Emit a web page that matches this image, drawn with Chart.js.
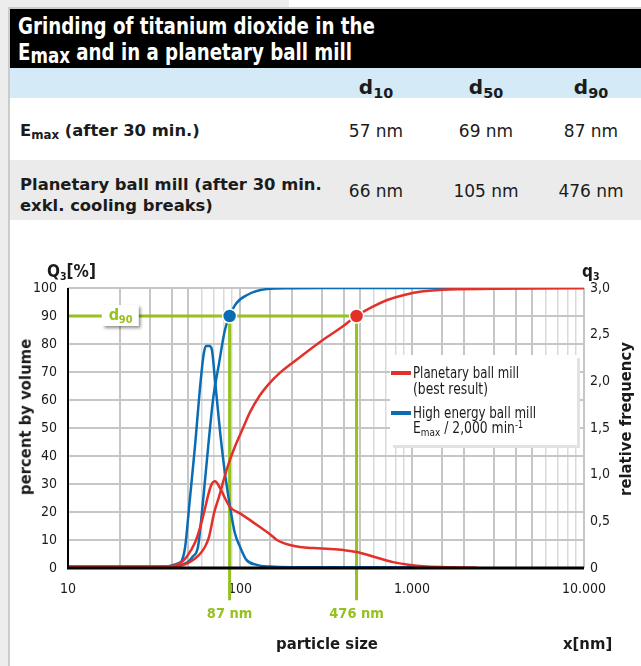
<!DOCTYPE html>
<html>
<head>
<meta charset="utf-8">
<title>Grinding of titanium dioxide</title>
<script src="https://cdn.jsdelivr.net/npm/chart.js@4.4.1/dist/chart.umd.min.js"></script>
<style>
  body { margin:0; width:641px; height:666px; position:relative; overflow:hidden; background:#fff; color:#1b1b1b; font-family:'DejaVu Sans', sans-serif; }
  .t { position:absolute; white-space:nowrap; line-height:1; }
  .b { font-weight:bold; }
  .c { font-family:'DejaVu Sans Condensed','DejaVu Sans',sans-serif; }
  .val { font-size:17px; width:110px; margin-left:-55px; text-align:center; }
  .fit { transform-origin:0 0; }
  .title { color:#fff; font-family:'Liberation Sans Narrow','DejaVu Sans Condensed',sans-serif; font-weight:bold; font-size:23px; left:18px; }
  sub { font-size:0.72em; vertical-align:-0.25em; line-height:0; }
  sup { font-size:0.65em; vertical-align:0.55em; line-height:0; }
  .box { position:absolute; }
  #chartBox { position:absolute; left:0; top:230px; width:641px; height:436px; }
  .leg { font-size:15px; left:413px; }
</style>
</head>
<body>
<!-- frame and table backgrounds -->
<div class="box" style="left:0;top:0;width:8px;height:666px;background:#ededed"></div>
<div class="box" style="left:8px;top:0;width:2px;height:666px;background:#cbcbcb"></div>
<div class="box" style="left:0;top:0;width:289px;height:7px;background:#ededed"></div>
<div class="box" style="left:8px;top:7px;width:633px;height:2px;background:#cbcbcb"></div>
<div class="box" style="left:10px;top:9px;width:631px;height:59px;background:#000"></div>
<div class="box" style="left:10px;top:68px;width:631px;height:30px;background:#d5eaf7"></div>
<div class="box" style="left:10px;top:160px;width:631px;height:60px;background:#ebebeb"></div>

<div class="t title fit" data-fit="357" style="top:14.5px">Grinding of titanium dioxide in the</div>
<div class="t title fit" data-fit="334" style="top:40.5px">E<span style="font-size:0.92em;position:relative;top:3px">max</span> and in a planetary ball mill</div>

<div class="t b" style="font-size:20px;left:376px;top:77px;transform:translateX(-50%)">d<sub>10</sub></div>
<div class="t b" style="font-size:20px;left:486px;top:77px;transform:translateX(-50%)">d<sub>50</sub></div>
<div class="t b" style="font-size:20px;left:591px;top:77px;transform:translateX(-50%)">d<sub>90</sub></div>

<div class="t b" style="font-size:16.4px;left:20px;top:123.2px">E<sub>max</sub> (after 30 min.)</div>
<div class="t val" style="left:376px;top:122.6px">57 nm</div>
<div class="t val" style="left:486px;top:122.6px">69 nm</div>
<div class="t val" style="left:591px;top:122.6px">87 nm</div>

<div class="t b" style="font-size:16.4px;left:20px;top:177.2px">Planetary ball mill (after 30 min.</div>
<div class="t b" style="font-size:16.4px;left:20px;top:198.2px">exkl. cooling breaks)</div>
<div class="t val" style="left:376px;top:182.6px">66 nm</div>
<div class="t val" style="left:486px;top:182.6px">105 nm</div>
<div class="t val" style="left:591px;top:182.6px">476 nm</div>

<div id="chartBox"><canvas id="psd"></canvas></div>

<!-- axis titles -->
<div class="t b c" style="font-size:17px;left:47px;top:262.6px">Q<sub style="font-size:0.62em">3</sub>[%]</div>
<div class="t b c" style="font-size:17px;left:582px;top:262.6px">q<sub style="font-size:0.62em">3</sub></div>
<div class="t b c" style="font-size:16.5px;left:26px;top:417px;transform:translate(-50%,-50%) rotate(-90deg)">percent by volume</div>
<div class="t b c" style="font-size:16.5px;left:626px;top:419px;transform:translate(-50%,-50%) rotate(-90deg)">relative frequency</div>
<div class="t b c" style="font-size:16.5px;left:327px;top:636px;transform:translateX(-50%)">particle size</div>
<div class="t b c" style="font-size:16.5px;left:563px;top:636px">x[nm]</div>

<!-- legend -->
<div class="box" style="left:390px;top:355px;width:187px;height:90px;background:#fff;box-shadow:3px 3px 0 #e2e2e2"></div>
<div class="box" style="left:391px;top:371px;width:20px;height:4px;background:#e3302a"></div>
<div class="box" style="left:391px;top:411px;width:20px;height:4px;background:#0a6db4"></div>
<div class="t c leg fit" data-fit="106" style="top:366px">Planetary ball mill</div>
<div class="t c leg fit" data-fit="75" style="top:382px">(best result)</div>
<div class="t c leg fit" data-fit="123" style="top:406px">High energy ball mill</div>
<div class="t c leg fit" data-fit="110" style="top:421px">E<sub>max</sub> / 2,000 min<sup>-1</sup></div>

<script>
// particle size axis
const sizeMin = 10;
const sizeMax = 10000;
const sizeTickLabels = {10: '10', 100: '100', 1000: '1.000', 10000: '10.000'};

// planetary ball mill, cumulative Q3 [%]
const planetaryCumX = [10, 40, 45, 50, 55, 58.5, 62.6, 66, 70.6, 76, 80, 85.4, 93.4, 100, 105, 114, 130, 146, 171, 220, 303, 380, 476, 600, 718, 900, 1163, 1500, 3000, 10000];
const planetaryCumY = [0.5, 0.5, 0.8, 1.8, 3.5, 5, 7.6, 11, 19.5, 26, 31, 36.8, 43.3, 47.5, 50.5, 55.5, 61.5, 65.5, 69.8, 75, 81.4, 85.5, 90, 93.5, 95.7, 97.5, 98.8, 99.4, 99.7, 100];

// planetary ball mill, density q3 (in % of left axis)
const planetaryFreqX = [10, 38, 42, 46, 49, 54.7, 58, 61.6, 65, 68, 71.5, 76.5, 81.7, 87.4, 100, 115, 130, 150, 164, 195, 223, 270, 333, 400, 479, 600, 776, 950, 1163, 1600, 2400];
const planetaryFreqY = [0.5, 0.5, 1, 2.2, 4, 9, 13.5, 19.5, 25.5, 29.6, 31, 28.6, 25, 21.8, 19.5, 17, 14.7, 12, 10, 8.2, 7.5, 7.1, 6.8, 6.4, 5.7, 4, 2.1, 1.2, 0.6, 0.3, 0.1];

// Emax, cumulative Q3 [%]
const emaxCumX = [10, 36, 40, 45, 50, 53, 57, 60, 65.3, 70, 75.5, 81.7, 87, 95, 110, 143, 200, 300, 10000];
const emaxCumY = [0.3, 0.3, 0.5, 1, 2.2, 4, 7.6, 19.5, 43.3, 61, 73, 85, 90, 94.5, 97.5, 99.6, 99.9, 100, 100];

// Emax, density q3
const emaxFreqX = [10, 30, 36, 40, 44, 46, 48, 51, 54.7, 59.1, 61.6, 63.5, 66.5, 68.6, 71.6, 76.5, 81.7, 87.4, 93.4, 100, 109, 125, 150, 200, 400, 1200];
const emaxFreqY = [0.3, 0.3, 0.4, 0.9, 1.8, 2.8, 7.6, 24, 43.3, 67, 76.7, 79.3, 79.3, 78, 67, 49, 34, 22, 12.4, 7.6, 2.9, 1.1, 0.5, 0.3, 0.3, 0.3];

// d90 markers
const d90Level = 90;
const d90Emax = 87;
const d90Planetary = 476;
const d90DropTo = -11.5;
const d90TagAt = 20;

const BLUE = '#0a6db4', RED = '#e3302a', GREEN = '#96c11f';

function pts(xs, ys) { return xs.map((x, i) => ({x: x, y: ys[i]})); }

function curve(label, xs, ys, color, order) {
  return {
    label: label, data: pts(xs, ys), showLine: true, borderColor: color, borderWidth: 2.5,
    pointRadius: 0, cubicInterpolationMode: 'monotone', order: order
  };
}

const annot = {
  id: 'annot',
  afterDatasetsDraw(chart) {
    const ctx = chart.ctx, a = chart.chartArea, x = chart.scales.x, y = chart.scales.y;
    ctx.save();
    // axes
    ctx.strokeStyle = '#000';
    ctx.lineWidth = 2;
    ctx.beginPath(); ctx.moveTo(a.left, a.top); ctx.lineTo(a.left, a.bottom); ctx.stroke();
    ctx.lineWidth = 3;
    ctx.beginPath(); ctx.moveTo(a.left - 1, a.bottom); ctx.lineTo(a.right, a.bottom); ctx.stroke();

    // d90 tag
    const tx = x.getPixelForValue(d90TagAt), ty = y.getPixelForValue(d90Level);
    ctx.shadowColor = 'rgba(0,0,0,0.45)';
    ctx.shadowOffsetX = 2; ctx.shadowOffsetY = 2; ctx.shadowBlur = 3;
    ctx.fillStyle = '#fff';
    ctx.fillRect(tx - 18, ty - 11, 37, 21);
    ctx.shadowColor = 'transparent';
    ctx.fillStyle = GREEN;
    ctx.textBaseline = 'alphabetic';
    ctx.textAlign = 'left';
    ctx.font = 'bold 16px "DejaVu Sans Condensed"';
    ctx.fillText('d', tx - 11, ty + 4);
    ctx.font = 'bold 11px "DejaVu Sans Condensed"';
    ctx.fillText('90', tx - 1, ty + 7);

    // size labels under drop lines
    ctx.font = 'bold 14.5px "DejaVu Sans Condensed"';
    ctx.textAlign = 'center';
    [d90Emax, d90Planetary].forEach(v => {
      ctx.fillText(v + ' nm', x.getPixelForValue(v), y.getPixelForValue(0) + 50);
    });
    ctx.restore();
  }
};

const chart = new Chart(document.getElementById('psd'), {
  type: 'scatter',
  data: {
    datasets: [
      {label: 'Emax d90', data: [{x: d90Emax, y: d90Level}], pointRadius: 7, pointHoverRadius: 7,
       pointBackgroundColor: BLUE, pointBorderColor: '#fff', pointBorderWidth: 1.5, order: 0},
      {label: 'Planetary d90', data: [{x: d90Planetary, y: d90Level}], pointRadius: 7, pointHoverRadius: 7,
       pointBackgroundColor: RED, pointBorderColor: '#fff', pointBorderWidth: 1.5, order: 0},
      curve('Planetary ball mill Q3', planetaryCumX, planetaryCumY, RED, 1),
      curve('Planetary ball mill q3', planetaryFreqX, planetaryFreqY, RED, 2),
      curve('Emax Q3', emaxCumX, emaxCumY, BLUE, 3),
      curve('Emax q3', emaxFreqX, emaxFreqY, BLUE, 4),
      {label: 'd90 level', data: [{x: sizeMin, y: d90Level}, {x: d90Planetary, y: d90Level}],
       showLine: true, borderColor: GREEN, borderWidth: 3, pointRadius: 0, order: 9},
      {label: 'd90 Emax', data: [{x: d90Emax, y: d90Level}, {x: d90Emax, y: d90DropTo}],
       showLine: true, borderColor: GREEN, borderWidth: 3, pointRadius: 0, clip: false, order: 9},
      {label: 'd90 Planetary', data: [{x: d90Planetary, y: d90Level}, {x: d90Planetary, y: d90DropTo}],
       showLine: true, borderColor: GREEN, borderWidth: 3, pointRadius: 0, clip: false, order: 9}
    ]
  },
  options: {
    responsive: true,
    maintainAspectRatio: false,
    animation: false,
    layout: {padding: {left: 10, right: 10, top: 58, bottom: 68}},
    plugins: {legend: {display: false}, tooltip: {enabled: false}},
    scales: {
      x: {
        type: 'logarithmic', min: sizeMin, max: sizeMax,
        afterFit: s => { s.height = 30; },
        border: {display: false},
        grid: {
          drawTicks: false,
          color: c => {
            const v = c.tick.value, lead = Math.round(v / Math.pow(10, Math.floor(Math.log10(v) + 1e-9)));
            return lead >= 6 ? '#dadada' : '#c6c6c6';
          },
          lineWidth: c => {
            const v = c.tick.value, lead = Math.round(v / Math.pow(10, Math.floor(Math.log10(v) + 1e-9)));
            return lead >= 6 ? 1.5 : 2;
          }
        },
        ticks: {
          autoSkip: false, maxRotation: 0, padding: 13, color: '#1b1b1b',
          font: {family: 'DejaVu Sans Condensed', size: 14},
          callback: v => sizeTickLabels[v] || ''
        }
      },
      y: {
        position: 'left', min: 0, max: 100,
        afterFit: s => { s.width = 58; },
        border: {display: false},
        grid: {drawTicks: false, color: '#c6c6c6', lineWidth: 2},
        ticks: {stepSize: 10, padding: 11, color: '#1b1b1b', font: {family: 'DejaVu Sans Condensed', size: 14}}
      },
      y2: {
        position: 'right', min: 0, max: 3,
        afterFit: s => { s.width = 47; },
        border: {display: false},
        grid: {display: false, drawTicks: false},
        ticks: {
          stepSize: 0.5, padding: 6, color: '#1b1b1b', font: {family: 'DejaVu Sans Condensed', size: 14},
          callback: v => v === 0 ? '0' : v.toFixed(1).replace('.', ',')
        }
      }
    }
  },
  plugins: [annot]
});

document.querySelectorAll('.fit').forEach(el => {
  const w = el.getBoundingClientRect().width;
  el.style.transform = 'scaleX(' + (el.dataset.fit / w) + ')';
});
</script>
</body>
</html>
